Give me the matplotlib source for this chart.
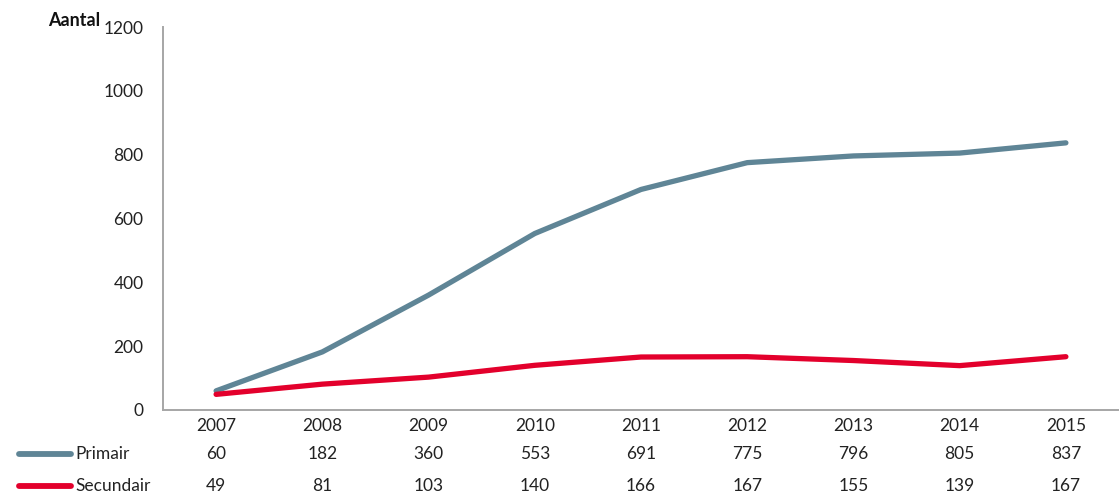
import matplotlib
matplotlib.use("Agg")
import matplotlib.pyplot as plt
from matplotlib.lines import Line2D

years = ["2007", "2008", "2009", "2010", "2011", "2012", "2013", "2014", "2015"]
primair = [60, 182, 360, 553, 691, 775, 796, 805, 837]
secundair = [49, 81, 103, 140, 166, 167, 155, 139, 167]
series_names = ["Primair", "Secundair"]
y_ticks = [0, 200, 400, 600, 800, 1000, 1200]

col_primair = "#5f8596"
col_secundair = "#e3002c"
spine_col = "#a6a6a6"

plt.rcParams["font.family"] = ["Lato", "DejaVu Sans"]

W, H = 1119, 496
fig = plt.figure(figsize=(W / 100, H / 100), dpi=100)
ax = fig.add_axes([163 / W, 1 - 410 / H, 1 - 163 / W, (410 - 27) / H])

x = list(range(len(years)))
ax.plot(x, primair, color=col_primair, lw=3.8, solid_capstyle="round", solid_joinstyle="round")
ax.plot(x, secundair, color=col_secundair, lw=3.8, solid_capstyle="round", solid_joinstyle="round")

ax.set_xlim(-0.5, len(years) - 0.5)
ax.set_ylim(0, 1200)
ax.set_yticks(y_ticks)
ax.set_yticklabels([str(v) for v in y_ticks], fontsize=12.5, color="#222222")
ax.tick_params(axis="y", length=0, pad=14)
ax.set_xticks(x)
ax.set_xticklabels(years, fontsize=12.5, color="#222222")
ax.tick_params(axis="x", length=0, pad=6)

for s in ["top", "right"]:
    ax.spines[s].set_visible(False)
for s in ["left", "bottom"]:
    ax.spines[s].set_color(spine_col)
    ax.spines[s].set_linewidth(1.4)

# Label above the value axis
fig.text(48 / W, 1 - 21 / H, "Aantal", fontsize=13, fontweight="bold", ha="left", va="center", color="#111111")

# Data table below the chart
rows = [primair, secundair]
colors = [col_primair, col_secundair]
row_y = [454, 486]
for name, vals, c, yp in zip(series_names, rows, colors, row_y):
    yf = 1 - yp / H
    fig.add_artist(Line2D([19 / W, 71 / W], [yf, yf], color=c, lw=4.2,
                          solid_capstyle="round", transform=fig.transFigure))
    fig.text(75 / W, yf, name, fontsize=12.5, ha="left", va="center", color="#222222")
    for i, v in enumerate(vals):
        xd = ax.transData.transform((i, 0))[0]
        xf = fig.transFigure.inverted().transform((xd, 0))[0]
        fig.text(xf, yf, str(v), fontsize=12.5, ha="center", va="center", color="#222222")

fig.savefig("out.png", dpi=100)
